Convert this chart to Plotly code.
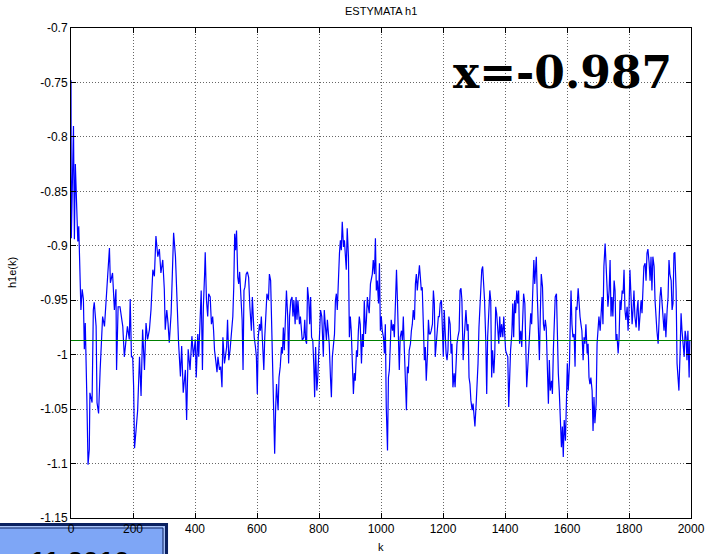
import plotly.graph_objects as go

# ---- data: (k, h1e(k)) ----
seg1 = [(0, -0.748), (1, -0.893), (8, -0.790), (11, -0.894), (14, -0.825), (22, -0.896), (25, -0.882),
        (29, -0.940), (32, -0.959), (36, -0.940), (40, -0.949), (43, -0.995), (46, -0.971), (51, -1.038),
        (55, -1.101), (59, -1.087), (61, -1.035), (68, -1.044), (72, -0.959), (75, -0.952), (81, -0.974),
        (84, -1.044), (89, -1.054), (94, -1.014), (102, -0.965), (108, -0.974), (113, -0.952), (118, -0.925),
        (124, -0.902), (127, -0.934), (134, -0.925), (140, -0.959), (145, -0.940), (147, -1.014), (152, -0.956),
        (158, -0.956), (162, -0.965), (167, -0.974), (172, -1.002), (178, -0.986), (182, -0.974), (188, -0.986),
        (191, -0.949), (195, -1.002), (199, -1.002), (202, -1.029), (205, -1.086), (210, -1.069), (215, -1.051),
        (221, -1.002), (226, -1.038), (231, -0.977), (237, -1.014), (242, -0.971), (247, -0.986), (253, -0.977),
        (258, -0.959), (264, -0.922), (269, -0.928), (274, -0.891), (280, -0.910), (285, -0.903), (290, -0.925),
        (296, -0.913), (301, -0.940), (304, -0.977), (309, -0.959), (313, -0.971), (317, -0.989), (323, -0.962),
        (328, -0.913), (331, -0.888), (337, -0.910), (342, -0.959), (347, -0.989), (353, -1.020), (357, -0.992),
        (362, -1.035), (369, -1.014), (373, -1.060), (378, -0.995), (384, -1.014), (390, -0.983), (395, -1.002),
        (401, -0.986)]

seg2 = [(404, -1.021), (409, -0.981), (412, -1.002), (416, -0.978), (420, -0.941), (424, -1.014), (427, -0.956),
        (431, -0.926), (433, -0.906), (437, -0.950), (441, -0.965), (444, -0.944), (449, -0.947), (453, -0.972),
        (457, -0.965), (460, -0.978), (463, -0.996), (468, -1.008), (471, -1.016), (474, -1.002), (479, -1.014),
        (483, -1.011), (487, -1.030), (490, -0.984), (495, -1.008), (498, -1.002), (502, -0.993), (505, -0.968),
        (509, -1.005), (513, -0.996), (517, -0.984), (522, -0.965), (525, -0.938), (528, -0.889), (531, -0.904),
        (534, -0.886), (538, -0.929), (541, -0.935), (544, -0.924), (547, -0.941), (552, -0.968), (555, -1.014),
        (558, -0.941), (561, -0.938), (565, -0.926), (569, -0.924), (573, -0.929), (577, -0.956), (582, -0.978),
        (585, -0.947), (588, -0.975), (591, -0.984), (595, -0.993), (598, -1.002), (601, -1.036), (604, -0.984),
        (608, -0.972), (611, -0.978), (614, -0.965), (618, -0.996), (622, -1.014), (625, -0.984), (629, -0.962),
        (632, -0.944), (637, -0.950), (640, -0.926), (644, -0.932), (647, -0.965), (651, -1.021), (654, -1.039),
        (657, -1.091), (660, -1.051), (663, -1.027), (668, -1.051), (671, -1.021), (675, -1.011), (679, -0.993),
        (682, -0.999), (685, -0.975), (688, -0.996), (691, -0.965), (695, -0.941), (699, -0.965), (702, -1.008),
        (705, -0.965), (709, -0.950), (713, -0.947), (716, -0.965), (719, -0.950), (723, -0.972), (726, -0.947),
        (729, -0.968), (732, -0.950), (737, -0.972), (740, -0.965), (743, -0.978), (746, -0.987), (751, -0.984),
        (754, -0.968), (757, -0.987), (760, -0.990), (763, -0.938), (767, -0.950), (770, -0.972), (773, -0.947),
        (776, -0.984), (780, -0.987), (783, -1.008), (786, -1.039), (789, -0.993), (793, -1.033), (796, -1.021),
        (799, -0.996), (802, -0.984), (805, -0.959), (809, -0.965)]

seg3 = [(814, -1.002), (817, -0.959), (821, -0.978), (824, -0.987), (827, -0.968), (830, -0.978), (833, -0.990),
        (837, -1.021), (840, -1.039), (843, -1.002), (846, -0.993), (850, -0.981), (853, -0.950), (856, -0.944),
        (859, -0.959), (862, -0.926), (866, -0.907), (869, -0.895), (872, -0.904), (875, -0.878), (879, -0.901),
        (882, -0.895), (885, -0.907), (888, -0.922), (891, -0.884), (895, -0.910), (898, -0.984), (901, -0.965),
        (904, -0.978), (908, -1.005), (911, -1.036), (914, -1.017), (917, -1.024), (921, -0.996), (924, -1.002),
        (927, -0.978), (930, -0.965), (933, -0.972), (937, -1.008), (940, -0.981), (943, -0.993), (946, -0.950),
        (950, -0.981), (953, -0.968), (956, -0.947), (959, -0.956), (962, -0.962), (966, -0.935), (969, -0.929),
        (972, -0.926), (975, -0.913), (979, -0.926), (982, -0.893), (985, -0.941), (988, -0.932), (992, -0.953),
        (995, -0.916), (998, -0.978), (1001, -0.965), (1004, -0.978), (1008, -0.984), (1011, -0.999), (1014, -0.972),
        (1017, -1.048), (1021, -1.088), (1024, -1.021), (1027, -1.014), (1030, -0.996), (1033, -0.968), (1037, -0.978),
        (1040, -0.972), (1043, -0.984), (1046, -0.947), (1050, -0.922), (1053, -0.950), (1056, -0.987), (1059, -1.014),
        (1062, -0.984), (1066, -0.978), (1069, -0.987), (1072, -0.965), (1075, -0.993), (1079, -1.021), (1082, -1.051),
        (1085, -1.011), (1088, -1.017), (1091, -0.996), (1095, -0.990), (1098, -0.978), (1101, -0.972), (1104, -0.959),
        (1108, -0.968), (1111, -0.935), (1114, -0.926), (1117, -0.941), (1121, -0.922), (1124, -0.918), (1127, -0.929),
        (1130, -0.941), (1133, -0.938), (1137, -0.981), (1140, -1.005), (1143, -0.993), (1146, -1.024), (1150, -0.999),
        (1153, -0.968), (1156, -0.981), (1159, -0.981), (1162, -0.978), (1166, -0.972), (1169, -0.941), (1172, -0.953),
        (1175, -1.002), (1179, -0.990), (1182, -0.981), (1185, -0.965), (1188, -0.965), (1191, -0.953), (1195, -0.950),
        (1198, -0.978), (1201, -1.002), (1204, -0.959), (1208, -0.987)]

seg4 = [(1210, -0.999), (1213, -1.005), (1216, -0.996), (1219, -0.965), (1223, -0.972), (1226, -0.999), (1229, -0.990),
        (1232, -1.030), (1236, -1.017), (1239, -1.030), (1242, -1.008), (1245, -0.990), (1248, -0.984), (1252, -0.978),
        (1255, -0.941), (1258, -0.939), (1261, -0.950), (1265, -1.005), (1268, -0.987), (1271, -0.972), (1274, -0.959),
        (1278, -0.978), (1281, -0.972), (1284, -1.021), (1287, -1.027), (1290, -1.042), (1294, -1.051), (1297, -1.045),
        (1300, -1.057), (1303, -1.066), (1307, -1.045), (1310, -1.027), (1313, -1.008), (1316, -0.975), (1318, -0.962),
        (1322, -0.929), (1325, -0.922), (1328, -0.919), (1331, -0.935), (1334, -0.950), (1338, -0.987), (1341, -1.036),
        (1344, -0.984), (1347, -0.962), (1351, -0.941), (1354, -0.950), (1357, -1.021), (1360, -0.996), (1364, -1.017),
        (1367, -0.999), (1370, -0.956), (1373, -0.962), (1376, -0.978), (1380, -0.990), (1383, -0.965), (1386, -0.984),
        (1389, -0.972), (1393, -0.984), (1396, -0.965), (1399, -0.987), (1402, -0.996), (1405, -0.999), (1409, -1.002),
        (1412, -1.048), (1415, -1.008), (1418, -0.996), (1422, -0.981), (1425, -0.953), (1428, -0.984), (1431, -0.950),
        (1434, -0.962), (1438, -0.941), (1441, -0.953), (1444, -0.941), (1447, -0.990), (1451, -0.978), (1454, -0.993),
        (1457, -0.965), (1460, -0.944), (1464, -0.953), (1467, -1.002), (1470, -1.030), (1473, -1.014), (1476, -0.996),
        (1480, -0.972), (1483, -0.962), (1486, -0.972), (1489, -0.941), (1493, -0.913), (1496, -0.935), (1499, -0.922),
        (1501, -0.910), (1504, -0.944), (1508, -0.972), (1511, -1.005), (1514, -0.962), (1517, -0.926), (1521, -0.938),
        (1524, -0.972), (1527, -0.978), (1530, -0.968), (1533, -0.975), (1537, -1.017), (1540, -1.045), (1543, -1.005),
        (1546, -1.033), (1550, -1.024), (1553, -1.036), (1556, -0.996), (1559, -0.978), (1562, -0.947), (1566, -0.944),
        (1569, -0.996), (1572, -1.017), (1575, -1.033), (1579, -1.076), (1582, -1.085), (1585, -1.066), (1588, -1.094),
        (1591, -1.060), (1595, -1.079), (1598, -1.045), (1601, -1.008), (1604, -1.033), (1608, -1.008)]

seg5 = [(1610, -0.978), (1613, -0.941), (1616, -0.972), (1619, -0.984), (1623, -0.981), (1626, -1.011), (1629, -0.956),
        (1632, -0.959), (1636, -0.939), (1639, -0.956), (1642, -0.965), (1645, -0.972), (1648, -0.978), (1652, -1.005),
        (1655, -0.984), (1658, -0.990), (1661, -0.972), (1665, -0.999), (1668, -0.990), (1671, -1.021), (1674, -1.027),
        (1677, -1.021), (1681, -1.033), (1684, -1.070), (1687, -1.039), (1690, -1.063), (1694, -1.045), (1697, -0.990),
        (1700, -0.978), (1703, -0.965), (1707, -0.978), (1710, -0.953), (1713, -0.947), (1716, -0.972), (1719, -0.919),
        (1723, -0.898), (1726, -0.922), (1729, -0.932), (1732, -0.956), (1736, -0.941), (1739, -0.913), (1742, -0.965),
        (1745, -0.947), (1748, -0.965), (1752, -0.932), (1755, -0.941), (1758, -0.987), (1761, -0.981), (1765, -0.999),
        (1768, -0.984), (1771, -0.950), (1774, -0.959), (1778, -0.941), (1781, -0.944), (1784, -0.922), (1787, -0.959),
        (1790, -0.968), (1794, -0.956), (1797, -0.978), (1800, -0.959), (1803, -0.922), (1807, -0.950), (1810, -0.972),
        (1813, -0.959), (1816, -0.941), (1819, -0.965), (1823, -0.975), (1826, -0.959), (1829, -0.950), (1832, -0.978),
        (1836, -0.965), (1839, -0.950), (1842, -0.962), (1845, -0.932), (1848, -0.919), (1852, -0.916), (1855, -0.932),
        (1858, -0.907), (1861, -0.903), (1865, -0.916), (1868, -0.932), (1871, -0.910), (1874, -0.941), (1877, -0.910),
        (1881, -0.919), (1884, -0.950), (1887, -0.972), (1890, -0.978), (1894, -0.990), (1897, -0.962), (1900, -0.947),
        (1903, -0.938), (1907, -0.959), (1910, -0.972), (1913, -0.978), (1916, -0.962), (1919, -0.984), (1923, -0.959),
        (1926, -0.947), (1929, -0.913), (1932, -0.926), (1936, -0.932), (1939, -0.959), (1942, -0.953), (1945, -0.907),
        (1948, -0.906), (1952, -0.941), (1955, -1.008), (1958, -1.027), (1961, -1.033), (1965, -0.996), (1968, -0.962),
        (1971, -0.978), (1974, -0.987), (1978, -1.002), (1981, -0.978), (1984, -0.984), (1987, -1.005), (1990, -0.978),
        (1994, -1.021), (1996, -0.987)]

true_value = -0.987
k_range = [0, 2000]
x_ticks = [0, 200, 400, 600, 800, 1000, 1200, 1400, 1600, 1800, 2000]
y_ticks = [-1.15, -1.1, -1.05, -1, -0.95, -0.9, -0.85, -0.8, -0.75, -0.7]
y_ticktext = ["-1.15", "-1.1", "-1.05", "-1", "-0.95", "-0.9", "-0.85", "-0.8", "-0.75", "-0.7"]

segments = [seg1, seg2, seg3, seg4, seg5]
k = [p[0] for s in segments for p in s]
h = [p[1] for s in segments for p in s]

fig = go.Figure()
fig.add_trace(go.Scatter(x=k, y=h, mode="lines", line=dict(color="#0000ff", width=1.2), hoverinfo="skip"))
fig.add_trace(go.Scatter(x=k_range, y=[true_value, true_value], mode="lines",
                         line=dict(color="#008000", width=1), hoverinfo="skip"))

axis_common = dict(showline=True, linecolor="black", linewidth=1, mirror="ticks", ticks="inside",
                   ticklen=5, tickcolor="black", showgrid=True, gridcolor="rgba(0,0,0,0.6)",
                   griddash="1px,2px", gridwidth=1, zeroline=False, automargin=False,
                   tickfont=dict(family="Arial, Liberation Sans", size=12, color="black"))

fig.update_layout(
    width=705, height=554,
    margin=dict(l=71, r=14, t=28, b=36, autoexpand=False),
    paper_bgcolor="white", plot_bgcolor="white",
    showlegend=False,
    xaxis=dict(range=k_range, tickvals=x_ticks, **axis_common),
    yaxis=dict(range=[-1.15, -0.7], tickvals=y_ticks, ticktext=y_ticktext, **axis_common),
)

navy = "#0b2160"
light = "#7ea6f6"
fig.add_shape(type="rect", xref="paper", yref="paper", x0=-0.2, x1=0.1565, y0=-0.0102, y1=-0.2,
              fillcolor=navy, line=dict(width=0), layer="below")
fig.add_shape(type="rect", xref="paper", yref="paper", x0=-0.2, x1=0.1516, y0=-0.0163, y1=-0.2,
              fillcolor="#a8c4fa", line=dict(width=0), layer="below")
fig.add_shape(type="rect", xref="paper", yref="paper", x0=-0.2, x1=0.1484, y0=-0.0204, y1=-0.2,
              fillcolor=light, line=dict(color=navy, width=1), layer="below")

fig.add_annotation(text="<b>11.2010</b>", xref="paper", yref="paper", x=0.0145, y=-0.047, yshift=-3,
                   xanchor="center", yanchor="top", showarrow=False,
                   font=dict(family="Arial, Liberation Sans", size=28, color="black"))

fig.add_annotation(text="<b>x=-0.987</b>", xref="paper", yref="paper", x=0.792, y=0.91,
                   xanchor="center", yanchor="middle", showarrow=False,
                   font=dict(family="DejaVu Serif", size=44, color="black"))

fig.add_annotation(text="ESTYMATA h1", xref="paper", yref="paper", x=0.5, y=1.0, yshift=17,
                   xanchor="center", yanchor="middle", showarrow=False,
                   font=dict(family="Arial, Liberation Sans", size=11, color="black"))
fig.add_annotation(text="k", xref="paper", yref="paper", x=0.5, y=0, yshift=-29,
                   xanchor="center", yanchor="middle", showarrow=False,
                   font=dict(family="Arial, Liberation Sans", size=11, color="black"))
fig.add_annotation(text="h1e(k)", xref="paper", yref="paper", x=0, xshift=-59, y=0.5,
                   xanchor="center", yanchor="middle", textangle=-90, showarrow=False,
                   font=dict(family="Arial, Liberation Sans", size=11, color="black"))

fig.write_html("out.html", config={"displayModeBar": False},
               post_script="document.body.style.margin='0px';")
